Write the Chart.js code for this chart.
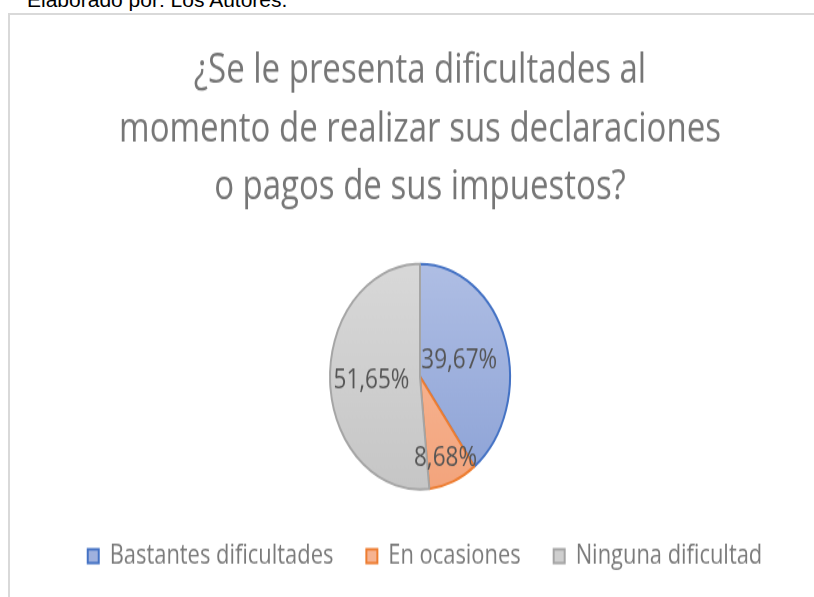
<!DOCTYPE html>
<html>
<head>
<meta charset="utf-8">
<script src="https://cdn.jsdelivr.net/npm/chart.js@4"></script>
<style>
  html, body { margin: 0; padding: 0; background: #fff; }
  body { width: 814px; height: 597px; position: relative; overflow: hidden; }
  #source {
    position: absolute; left: 27px; top: -12px;
    font-family: "Liberation Sans", Arial, sans-serif; font-size: 21px; color: #000;
    white-space: nowrap;
  }
  #frame {
    position: absolute; left: 8px; top: 13px; width: 804px; height: 600px;
    border-top: 2px solid #d9d9d9; border-left: 2px solid #d9d9d9;
  }
  /* the original picture is stretched vertically, so the chart is too */
  #wrap {
    position: absolute; left: 0; top: 0; width: 814px; height: 477.6px;
    transform: scaleY(1.25); transform-origin: 0 0;
  }
</style>
</head>
<body>
<div id="source">Elaborado por: Los Autores.</div>
<div id="frame"></div>
<div id="wrap"><canvas id="chart"></canvas></div>
<script>
/* Chart data. */
const categories = ["Bastantes dificultades", "En ocasiones", "Ninguna dificultad"]
const percentages = [39.67, 8.68, 51.65]
const titleLines = [
  "¿Se le presenta dificultades al",
  "momento de realizar sus declaraciones",
  "o pagos de sus impuestos?"
]

/* Colours: gradient top, gradient bottom, border. */
const fillTop = ["#afbee4", "#f8bea0", "#d8d8d8"]
const fillBottom = ["#8ca2d6", "#f3a47c", "#c6c6c6"]
const borderColors = ["#4472c4", "#ed7d31", "#a5a5a5"]
const legendFill = ["#9fb1de", "#f6b391", "#cfcfcf"]

/* Radial position of each percentage label, as fraction of radius. */
const labelRadius = [0.46, 0.77, 0.54]

const FONT = "'Open Sans', 'Noto Sans', sans-serif"

/* Gradient fill for each slice, from top to bottom of the pie. */
const sliceFill = context => {
  const chart = context.chart
  const area = chart.chartArea
  const i = context.dataIndex
  if (!area || i === undefined) return legendFill[i || 0]
  const cy = (area.top + area.bottom) / 2
  const g = chart.ctx.createLinearGradient(0, cy - 90, 0, cy + 90)
  g.addColorStop(0, fillTop[i])
  g.addColorStop(1, fillBottom[i])
  return g
}

/* Plugin to write the percentages inside the slices. */
const sliceLabels = {
  id: "sliceLabels",
  afterDatasetsDraw(chart, args, opts) {
    const ctx = chart.ctx
    const meta = chart.getDatasetMeta(0)
    ctx.save()
    ctx.font = opts.size + "px " + FONT
    ctx.fillStyle = opts.color
    ctx.textAlign = "center"
    ctx.textBaseline = "middle"
    meta.data.forEach((arc, i) => {
      const p = arc.getProps(["x", "y", "startAngle", "endAngle", "outerRadius"], true)
      const mid = (p.startAngle + p.endAngle) / 2
      const r = p.outerRadius * labelRadius[i]
      const text = percentages[i].toFixed(2).replace(".", ",") + "%"
      ctx.fillText(text, p.x + Math.cos(mid) * r, p.y + Math.sin(mid) * r)
    })
    ctx.restore()
  }
}

/* Plugin to nudge the legend a little to the right, like in the picture. */
const legendShift = {
  id: "legendShift",
  afterLayout(chart, args, opts) {
    if (chart.legend) {
      chart.legend.left += opts.dx
      chart.legend.right += opts.dx
    }
  }
}

const ctx = document.getElementById("chart").getContext("2d")
const chart = new Chart(ctx, {
  type: "pie",
  data: {
    labels: categories,
    datasets: [{
      data: percentages,
      backgroundColor: sliceFill,
      borderColor: borderColors,
      borderWidth: 2,
      radius: 90
    }]
  },
  plugins: [sliceLabels, legendShift],
  options: {
    responsive: true,
    maintainAspectRatio: false,
    animation: false,
    layout: {
      padding: { left: 26, right: 0, top: 0, bottom: 12.65 }
    },
    plugins: {
      title: {
        display: true,
        text: titleLines,
        color: "#767676",
        font: { family: FONT, size: 33, weight: "normal", lineHeight: 46.8 / 33 },
        padding: { top: 33, bottom: 27.95 }
      },
      legend: {
        display: true,
        position: "bottom",
        labels: {
          color: "#7a7a7a",
          font: { family: FONT, size: 21.9 },
          boxWidth: 11,
          boxHeight: 11,
          padding: 33,
          generateLabels: c => {
            const base = Chart.overrides.pie.plugins.legend.labels.generateLabels(c)
            base.forEach((item, i) => {
              item.fillStyle = legendFill[i]
              item.strokeStyle = borderColors[i]
              item.lineWidth = 2
            })
            return base
          }
        }
      },
      tooltip: { enabled: false },
      sliceLabels: { size: 22.5, color: "#555555" },
      legendShift: { dx: 5 }
    }
  }
})
</script>
</body>
</html>
